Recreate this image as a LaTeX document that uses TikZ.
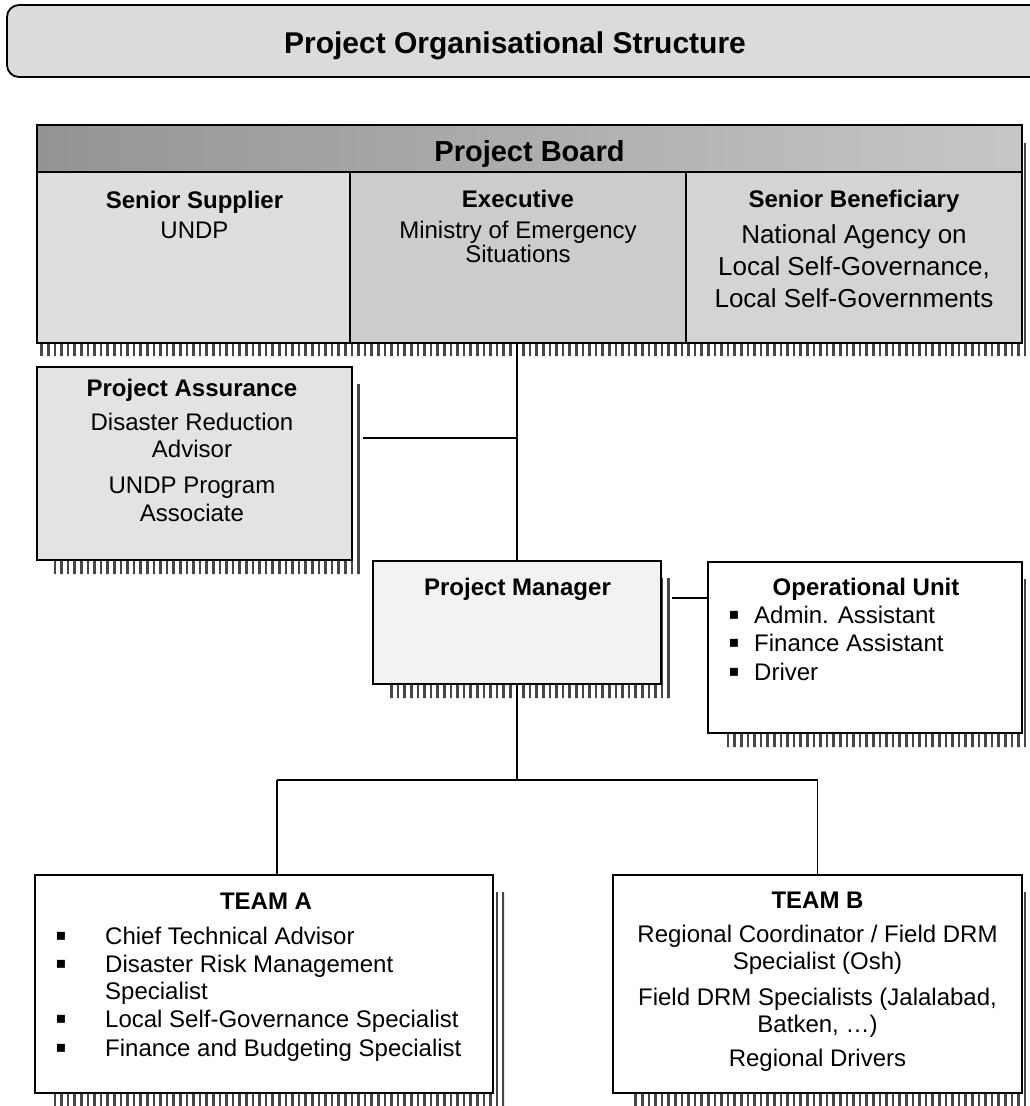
\documentclass[tikz,border=0pt]{standalone}
\usepackage{fontspec}
\setmainfont{Liberation Sans}
\newfontfamily\symfont{DejaVu Sans}
\newcommand\shadowpath[1]{([xshift=17pt,yshift=-1pt]#1.south west) rectangle ([xshift=11pt,yshift=-14pt]#1.south east) ([xshift=1pt,yshift=-17pt]#1.north east) rectangle ([xshift=11pt,yshift=-1pt]#1.south east)}
\tikzset{
  box/.style={draw, line width=1.8pt, inner sep=0pt, outer sep=0pt, anchor=north west},
  lbl/.style={inner sep=0pt, anchor=base, font=\fontsize{24}{28}\selectfont},
  lblb/.style={lbl, font=\fontsize{24}{28}\selectfont\bfseries},
  lbll/.style={lbl, anchor=base west},
  lblbig/.style={lbl, font=\fontsize{26}{30}\selectfont},
  bull/.style={inner sep=0pt, anchor=center, font=\symfont\fontsize{16}{18}\selectfont},
  conn/.style={line width=1.4pt},
  stripe/.style={line width=2.6pt, draw=black!72},
}
\begin{document}
\begin{tikzpicture}[x=1pt,y=-1pt]
\useasboundingbox (0,0) rectangle (1030,1106);
\clip (0,0) rectangle (1030,1106);
% title
\node[box, rounded corners=12pt, fill=black!14, minimum width=1045pt, minimum height=72pt] (title) at (7,5) {};
\node[lblb, font=\fontsize{30}{34}\selectfont\bfseries] (titlet) at (515,53) {Project Organisational Structure};
% board
\node[box, draw=none, left color=black!42, right color=black!22, minimum width=985pt, minimum height=47pt] (bh) at (37,125) {};
\node[box, fill=black!13, minimum width=313pt, minimum height=171pt] (c1) at (37,172) {};
\node[box, fill=black!20, minimum width=336pt, minimum height=171pt] (c2) at (350,172) {};
\node[box, fill=black!17, minimum width=336pt, minimum height=171pt] (c3) at (686,172) {};
\node[box, minimum width=985pt, minimum height=218pt] (board) at (37,125) {};
\node[lblb, font=\fontsize{29}{33}\selectfont\bfseries] (bht) at (529.5,161) {Project Board};
\node[lblb] (ss) at (194.5,208.5) {Senior Supplier};
\node[lbl] (ss1) at (194.5,238.5) {UNDP};
\node[lblb] (ex) at (518,207.5) {Executive};
\node[lbl] (ex1) at (518,238.5) {Ministry of Emergency};
\node[lbl] (ex2) at (518,262.5) {Situations};
\node[lblb] (sb) at (854,207.5) {Senior Beneficiary};
\node[lblbig] (sb1) at (854,243) {National Agency on};
\node[lblbig] (sb2) at (854,275) {Local Self-Governance,};
\node[lblbig] (sb3) at (854,307) {Local Self-Governments};
% project assurance
\node[box, fill=black!11, minimum width=315pt, minimum height=193pt] (pa) at (37,367) {};
\node[lblb] (pat) at (192,396.5) {Project Assurance};
\node[lbl] (pa1) at (192,430.5) {Disaster Reduction};
\node[lbl] (pa2) at (192,457.5) {Advisor};
\node[lbl] (pa3) at (192,493.5) {UNDP Program};
\node[lbl] (pa4) at (192,521.5) {Associate};
% project manager
\node[box, fill=black!5, minimum width=288pt, minimum height=123pt] (pm) at (373,561) {};
\node[lblb] (pmt) at (517.5,595.5) {Project Manager};
% operational unit
\node[box, fill=white, minimum width=314pt, minimum height=171pt] (ou) at (708,562) {};
\node[lblb] (out) at (866,595.5) {Operational Unit};
\node[bull] (oub1) at (734,615) {▪};
\node[bull] (oub2) at (734,643) {▪};
\node[bull] (oub3) at (734,672) {▪};
\node[lbll] (ou1) at (754,623.5) {Admin. Assistant};
\node[lbll] (ou2) at (754,651.5) {Finance Assistant};
\node[lbll] (ou3) at (754,680.5) {Driver};
% team A
\node[box, fill=white, minimum width=458pt, minimum height=218pt] (ta) at (35,875) {};
\node[lblb] (tat) at (266,909.5) {TEAM A};
\node[bull] (tab1) at (61,936) {▪};
\node[bull] (tab2) at (61,964) {▪};
\node[bull] (tab3) at (61,1019) {▪};
\node[bull] (tab4) at (61,1048) {▪};
\node[lbll] (ta1) at (105,944.5) {Chief Technical Advisor};
\node[lbll] (ta2) at (105,972.5) {Disaster Risk Management};
\node[lbll] (ta3) at (105,999.5) {Specialist};
\node[lbll] (ta4) at (105,1027.5) {Local Self-Governance Specialist};
\node[lbll] (ta5) at (105,1056.5) {Finance and Budgeting Specialist};
% team B
\node[box, fill=white, minimum width=409pt, minimum height=218pt] (tb) at (613,875) {};
\node[lblb] (tbt) at (817.5,908.5) {TEAM B};
\node[lbl] (tb1) at (817.5,942.5) {Regional Coordinator / Field DRM};
\node[lbl] (tb2) at (817.5,969.5) {Specialist (Osh)};
\node[lbl] (tb3) at (817.5,1005.5) {Field DRM Specialists (Jalalabad,};
\node[lbl] (tb4) at (817.5,1032.5) {Batken, \dots)};
\node[lbl] (tb5) at (817.5,1066.5) {Regional Drivers};
% hatched drop shadows
\begin{scope}
\clip ([yshift=-1pt]board.south west) rectangle ([xshift=14pt,yshift=-13pt]board.south east)
      ([xshift=1pt,yshift=-18pt]board.north east) rectangle ([xshift=14pt,yshift=-1pt]board.south east)
      \shadowpath{pa} \shadowpath{pm} \shadowpath{ou} \shadowpath{ta} \shadowpath{tb};
\foreach \x in {2,8.6,...,1040} \draw[stripe] (\x,0) -- (\x,1106);
\end{scope}
% connectors
\coordinate (jy) at (0,780);
\coordinate (ja) at (277,780);
\coordinate (jb) at (tb.north |- jy);
\coordinate (paj) at ([xshift=11pt,yshift=25.5pt]pa.east);
\coordinate (pmj) at ([xshift=11pt,yshift=24.5pt]pm.east);
\draw[conn] (pm.north) -- (pm.north |- board.south);
\draw[conn] (paj) -- (paj -| pm.north);
\draw[conn] (pmj) -- (pmj -| ou.west);
\draw[conn] (pm.south) -- (pm.south |- jy);
\draw[conn] (ja) -- (jb);
\draw[conn] (ja) -- (ja |- ta.north);
\draw[conn] (jb) -- (tb.north);
\end{tikzpicture}
\end{document}
